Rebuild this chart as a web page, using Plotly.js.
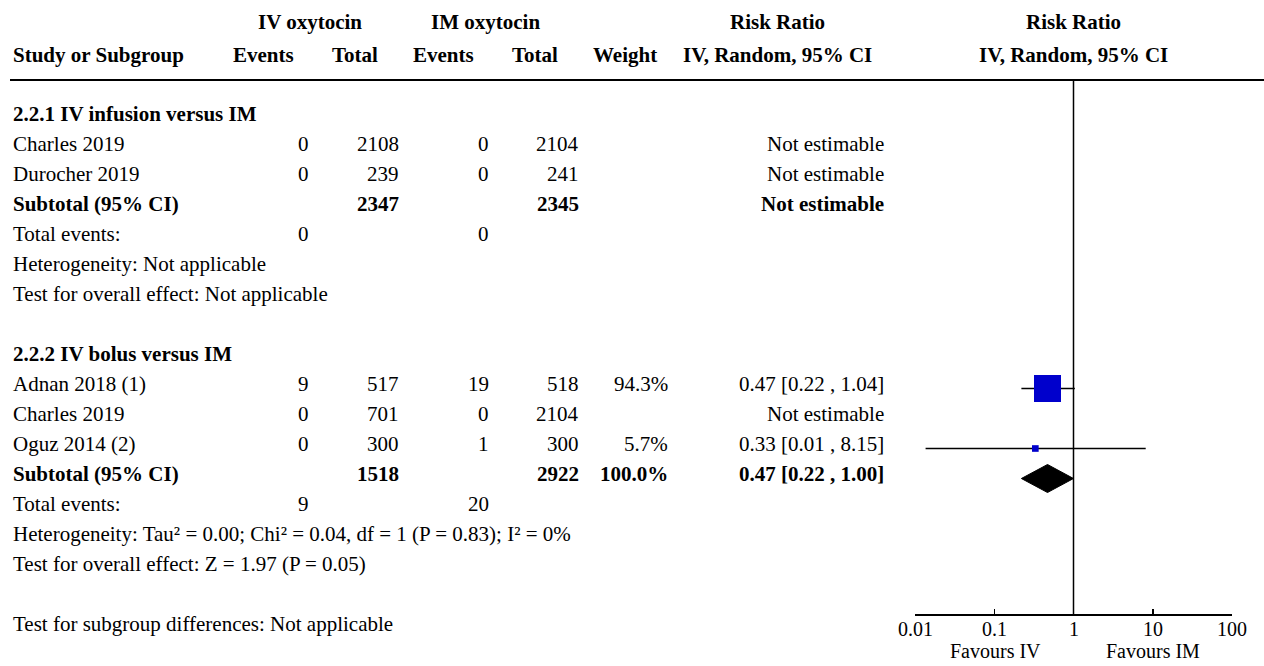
<!DOCTYPE html>
<html>
<head>
<meta charset="utf-8">
<script src="https://cdn.plot.ly/plotly-3.0.1.min.js"></script>
<style>html,body{margin:0;padding:0;background:#fff;}#chart{width:1264px;height:666px;}</style>
</head>
<body>
<div id="chart"></div>
<script>
// ---------- DATA ----------
const rowLabels = [
  '2.2.1 IV infusion versus IM',
  'Charles 2019',
  'Durocher 2019',
  'Subtotal (95% CI)',
  'Total events:',
  'Heterogeneity: Not applicable',
  'Test for overall effect: Not applicable',
  '',
  '2.2.2 IV bolus versus IM',
  'Adnan 2018 (1)',
  'Charles 2019',
  'Oguz 2014 (2)',
  'Subtotal (95% CI)',
  'Total events:',
  'Heterogeneity: Tau² = 0.00; Chi² = 0.04, df = 1 (P = 0.83); I² = 0%',
  'Test for overall effect: Z = 1.97 (P = 0.05)',
  '',
  'Test for subgroup differences: Not applicable'
];
const boldRow = [true,false,false,true,false,false,false,false,true,false,false,false,true,false,false,false,false,false];
const ivEvents = ['','0','0','','0','','','','','9','0','0','','9','','','',''];
const ivTotal  = ['','2108','239','2347','','','','','','517','701','300','1518','','','','',''];
const imEvents = ['','0','0','','0','','','','','19','0','1','','20','','','',''];
const imTotal  = ['','2104','241','2345','','','','','','518','2104','300','2922','','','','',''];
const weightText = ['','','','','','','','','','94.3%','','5.7%','100.0%','','','','',''];
const rrText = ['','Not estimable','Not estimable','Not estimable','','','','','',
  '0.47 [0.22 , 1.04]','Not estimable','0.33 [0.01 , 8.15]','0.47 [0.22 , 1.00]','','','','',''];

// plotted estimates (null = nothing drawn)
const rrEst  = [null,null,null,null,null,null,null,null,null,0.47,null,0.33,null,null,null,null,null,null];
const rrLow  = [null,null,null,null,null,null,null,null,null,0.22,null,0.0136,null,null,null,null,null,null];
const rrHigh = [null,null,null,null,null,null,null,null,null,1.04,null,8.15,null,null,null,null,null,null];
const weights= [null,null,null,null,null,null,null,null,null,94.3,null,5.7,null,null,null,null,null,null];
const pooledRow = 12;
const pooledEst = 0.47, pooledLow = 0.22, pooledHigh = 1.00;

const headerTop = ['IV oxytocin','IM oxytocin','Risk Ratio','Risk Ratio'];
const headerBottom = ['Study or Subgroup','Events','Total','Events','Total','Weight','IV, Random, 95% CI','IV, Random, 95% CI'];
const tickVals = [0.01,0.1,1,10,100];
const tickText = ['0.01','0.1','1','10','100'];
const favours = ['Favours IV','Favours IM'];

// ---------- LAYOUT / STYLE ----------
const W = 1264, H = 666;
const FONT = 'Liberation Serif, Times New Roman, serif';
const FS = 21;
const rowY = k => 113.5 + 30*k;
const markShift = 5;
const px = x => x / W;

const ann = [];
function txt(text, x, y, anchor, bold, xref, size) {
  ann.push({text: bold ? '<b>'+text+'</b>' : text, xref: xref || 'paper', yref:'y',
    x: xref ? x : px(x), y: y,
    xanchor: anchor, yanchor:'middle', showarrow:false, borderpad:0,
    font:{family:FONT, size:size || FS, color:'#000'}});
}
// headers
const topX = [310, 485, 778, 1073];
headerTop.forEach((t,i)=>txt(t, topX[i], 22, 'center', true));
const botX = [[12,'left'],[295,'right'],[379,'right'],[475,'right'],[559,'right'],[658,'right'],[778,'center'],[1073,'center']];
headerBottom.forEach((t,i)=>txt(t, botX[i][0], 55, botX[i][1], true));

// table rows
const colRight = [310, 400, 490, 580, 669, 885];
rowLabels.forEach((lab,k)=>{
  const y = rowY(k), b = boldRow[k];
  if (lab) txt(lab, 12, y, 'left', b);
  [ivEvents, ivTotal, imEvents, imTotal, weightText, rrText].forEach((arr,c)=>{
    if (arr[k]) txt(arr[k], colRight[c], y, 'right', b);
  });
});
// axis tick labels placed on the log axis (annotation x is log10 on log axes)
tickVals.forEach((v,i)=>txt(tickText[i], Math.log10(v), 628.5, 'center', false, 'x', 20));
txt(favours[0], 995, 651, 'center', false, null, 20);
txt(favours[1], 1153, 651, 'center', false, null, 20);

// ---------- TRACES ----------
const traces = [];
rrEst.forEach((e,k)=>{
  if (e === null) return;
  const y = rowY(k) + markShift;
  traces.push({type:'scatter', mode:'lines', x:[rrLow[k], rrHigh[k]], y:[y,y],
    line:{color:'#000', width:1.5}, hoverinfo:'skip', showlegend:false});
  traces.push({type:'scatter', mode:'markers', x:[e], y:[y],
    marker:{symbol:'square', color:'#0000cc', size: 27*Math.sqrt(weights[k]/94.3), line:{width:0}},
    hoverinfo:'skip', showlegend:false});
});
{
  const y = rowY(pooledRow) + markShift, h = 14;
  traces.push({type:'scatter', mode:'lines', fill:'toself', fillcolor:'#000',
    x:[pooledLow, pooledEst, pooledHigh, pooledEst, pooledLow],
    y:[y, y-h, y, y+h, y], line:{color:'#000', width:1}, hoverinfo:'skip', showlegend:false});
}

const axisY = 614;
const layout = {
  width: W, height: H,
  margin:{l:0,r:0,t:0,b:0},
  paper_bgcolor:'#fff', plot_bgcolor:'rgba(0,0,0,0)',
  showlegend:false,
  xaxis:{type:'log', range:[-2,2], domain:[px(915), px(1232)], anchor:'free', position:(H-axisY)/H,
    showline:true, linecolor:'#000', linewidth:1.5, ticks:'inside', ticklen:5, tickwidth:1.5, tickcolor:'#000',
    tickvals:tickVals, showticklabels:false,
    showgrid:false, zeroline:false, fixedrange:true},
  yaxis:{range:[H,0], domain:[0,1], visible:false, fixedrange:true},
  annotations: ann,
  shapes:[
    {type:'line', xref:'paper', yref:'y', x0:px(10), x1:1, y0:80, y1:80, line:{color:'#000', width:2}},
    {type:'line', xref:'x', yref:'y', x0:1, x1:1, y0:80, y1:axisY, line:{color:'#000', width:1.5}}
  ]
};
Plotly.newPlot('chart', traces, layout, {displayModeBar:false, staticPlot:true});
</script>
</body>
</html>
